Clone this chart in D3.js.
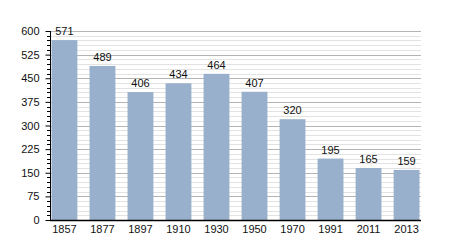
<!doctype html>
<html>
<head>
<meta charset="utf-8">
<style>
  body { margin: 0; background: #fff; }
  text { font-family: "Liberation Sans", Arial, sans-serif; }
</style>
</head>
<body>
<div id="chart"></div>
<script src="https://d3js.org/d3.v7.min.js"></script>
<script>
// années et population
var annees = ["1857", "1877", "1897", "1910", "1930", "1950", "1970", "1991", "2011", "2013"];
var population = [571, 489, 406, 434, 464, 407, 320, 195, 165, 159];
var graduations = [0, 75, 150, 225, 300, 375, 450, 525, 600];

var w = 450, h = 250;
var mGauche = 50, mDroite = 421, mHaut = 31, mBas = 220;

var svg = d3.select("#chart").append("svg")
  .attr("width", w)
  .attr("height", h);

var x = d3.scaleBand()
  .domain(annees)
  .range([mGauche, mDroite])
  .paddingInner(0.32)
  .paddingOuter(0.04);

var y = d3.scaleLinear()
  .domain([0, 600])
  .range([mBas, mHaut]);

// lignes secondaires tous les 15
var mineures = d3.range(0, 601, 15).filter(function(v) { return v % 75 != 0; });
svg.selectAll(".mineure")
  .data(mineures)
  .enter().append("line")
  .attr("x1", mGauche).attr("x2", mDroite)
  .attr("y1", function(d) { return Math.round(y(d)) + 0.5; })
  .attr("y2", function(d) { return Math.round(y(d)) + 0.5; })
  .attr("stroke", "#e2e2e2");

svg.selectAll(".majeure")
  .data(graduations.slice(1))
  .enter().append("line")
  .attr("x1", mGauche).attr("x2", mDroite)
  .attr("y1", function(d) { return Math.round(y(d)) + 0.5; })
  .attr("y2", function(d) { return Math.round(y(d)) + 0.5; })
  .attr("stroke", "#b4b4b4");

// barres
var g = svg.selectAll(".barre")
  .data(population)
  .enter().append("g");

g.append("rect")
  .attr("x", function(d, i) { return x(annees[i]); })
  .attr("y", function(d) { return y(d); })
  .attr("width", x.bandwidth())
  .attr("height", function(d) { return mBas - y(d); })
  .attr("fill", "#98b0cb");

g.append("text")
  .attr("x", function(d, i) { return x(annees[i]) + x.bandwidth() / 2; })
  .attr("y", function(d) { return y(d) - 5; })
  .attr("text-anchor", "middle")
  .attr("font-size", "11px")
  .attr("fill", "#111")
  .text(function(d) { return d; });

// axe vertical avec petites graduations
svg.selectAll(".petite")
  .data(mineures)
  .enter().append("line")
  .attr("x1", mGauche - 3).attr("x2", mGauche)
  .attr("y1", function(d) { return Math.round(y(d)) + 0.5; })
  .attr("y2", function(d) { return Math.round(y(d)) + 0.5; })
  .attr("stroke", "#000");

var axeY = d3.axisLeft(y).tickValues(graduations).tickSize(5).tickPadding(6);
svg.append("g")
  .attr("transform", "translate(" + (mGauche + 0.5) + ",0)")
  .call(axeY)
  .call(function(s) {
    s.select(".domain").attr("d", "M0," + mHaut + "V" + (mBas + 1));
    s.selectAll("text").attr("font-size", "11px").attr("fill", "#111").style("font-family", "Liberation Sans, Arial, sans-serif");
  });

var axeX = d3.axisBottom(x).tickSize(0).tickPadding(5);
svg.append("g")
  .attr("transform", "translate(0," + (mBas + 0.5) + ")")
  .call(axeX)
  .call(function(s) {
    s.select(".domain").attr("d", "M" + mGauche + ",0H" + mDroite).attr("stroke-width", 1.5);
    s.selectAll("text").attr("font-size", "11px").attr("fill", "#111").style("font-family", "Liberation Sans, Arial, sans-serif");
  });
</script>
</body>
</html>
